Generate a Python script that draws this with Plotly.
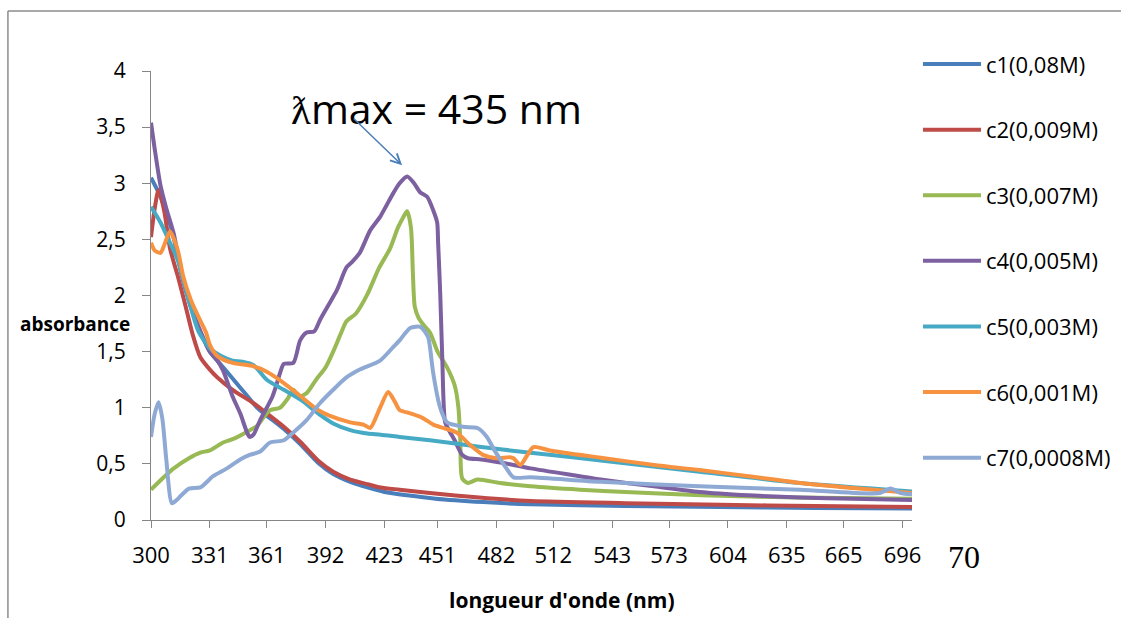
import plotly.graph_objects as go

# ---------------- data ----------------
series_names = ["c1(0,08M)", "c2(0,009M)", "c3(0,007M)", "c4(0,005M)",
                "c5(0,003M)", "c6(0,001M)", "c7(0,0008M)"]
series_colors = ["#4A7EBB", "#BE4B48", "#98B954", "#7D60A0",
                 "#46AAC5", "#F69240", "#8EA9D3"]

wl_c1 = [300, 305, 311, 316, 321, 327, 331, 337, 343, 350, 356, 361, 370, 379, 388,
         396, 405, 414, 423, 435, 450, 475, 500, 550, 600, 650, 701]
abs_c1 = [3.05, 2.88, 2.58, 2.2, 1.9, 1.64, 1.5, 1.38, 1.26, 1.12, 1.0, 0.93, 0.81, 0.67, 0.51,
          0.41, 0.34, 0.29, 0.25, 0.22, 0.19, 0.16, 0.14, 0.125, 0.115, 0.108, 0.103]

wl_c2 = [300, 302, 304, 307, 310, 314, 318, 322, 326, 331, 335, 343, 354, 361, 370, 379,
         388, 396, 405, 414, 421, 431, 447, 473, 500, 550, 600, 650, 701]
abs_c2 = [2.52, 2.78, 2.94, 2.75, 2.42, 2.18, 1.92, 1.65, 1.45, 1.34, 1.27, 1.16, 1.04, 0.95,
          0.83, 0.69, 0.53, 0.43, 0.36, 0.32, 0.29, 0.27, 0.24, 0.2, 0.17, 0.15, 0.135, 0.125, 0.116]

wl_c3 = [300, 306, 312, 320, 326, 331, 338, 343, 350, 356, 360, 363, 368, 372, 375, 378,
         382, 387, 392, 396, 400, 403, 408, 414, 420, 426, 430, 433, 435, 437, 438, 439,
         441, 443, 447, 451, 456, 460, 462, 463, 464, 467, 472, 484, 500, 526, 550, 590,
         640, 701]
abs_c3 = [0.27, 0.37, 0.46, 0.55, 0.6, 0.62, 0.69, 0.72, 0.78, 0.84, 0.93, 0.98, 1.0, 1.08,
          1.16, 1.1, 1.13, 1.25, 1.36, 1.5, 1.66, 1.77, 1.84, 2.01, 2.24, 2.42, 2.6, 2.7, 2.75,
          2.6, 2.2, 1.9, 1.8, 1.75, 1.67, 1.5, 1.36, 1.2, 1.0, 0.7, 0.37, 0.33, 0.36, 0.33,
          0.3, 0.27, 0.25, 0.22, 0.2, 0.19]

wl_c4 = [300, 302, 305, 308, 312, 316, 321, 327, 331, 335, 338, 343, 347, 350.6, 352, 354,
         357.5, 361, 364, 366, 368, 370, 375, 378.6, 382, 386, 389, 393, 398, 403, 406, 410,
         415.5, 420.7, 424, 427.6, 431, 435, 438.6, 441.8, 445.5, 448.7, 450.8, 451.3, 452.4,
         453.5, 455, 457, 460, 464, 467, 474, 485, 500, 526, 537, 565, 589, 615, 642, 670, 701]
abs_c4 = [3.54, 3.3, 2.98, 2.78, 2.55, 2.2, 1.9, 1.64, 1.5, 1.42, 1.33, 1.1, 0.95, 0.78, 0.74,
          0.76, 0.89, 1.0, 1.1, 1.2, 1.31, 1.39, 1.4, 1.6, 1.67, 1.68, 1.78, 1.9, 2.05, 2.25,
          2.3, 2.38, 2.58, 2.7, 2.8, 2.91, 3.0, 3.06, 3.0, 2.92, 2.88, 2.76, 2.65, 2.47, 2.02,
          1.43, 0.87, 0.8, 0.71, 0.58, 0.55, 0.54, 0.51, 0.46, 0.39, 0.36, 0.3, 0.25, 0.22,
          0.2, 0.19, 0.178]

wl_c5 = [300, 305, 310, 314, 320, 325, 331, 337, 343, 348, 354, 361, 370, 379, 388, 396,
         405, 414, 421, 431, 447, 474, 484, 500, 537, 589, 642, 701]
abs_c5 = [2.79, 2.65, 2.47, 2.32, 1.95, 1.68, 1.53, 1.46, 1.42, 1.41, 1.38, 1.25, 1.16, 1.07,
          0.95, 0.86, 0.8, 0.77, 0.76, 0.74, 0.71, 0.65, 0.63, 0.6, 0.53, 0.43, 0.33, 0.255]

wl_c6 = [300, 302, 305, 307, 310, 314, 317, 321, 325, 329, 331, 335, 343, 354, 361, 370,
         379, 388, 394, 405, 412, 415.5, 420.7, 425, 428.6, 431, 436.6, 443, 448.7, 454,
         461, 468, 475, 482, 489, 491, 494.6, 498, 501.5, 510, 537, 565, 589, 615, 642, 670, 701]
abs_c6 = [2.47, 2.4, 2.38, 2.45, 2.57, 2.41, 2.17, 1.96, 1.81, 1.67, 1.56, 1.46, 1.4, 1.37,
          1.32, 1.22, 1.1, 0.98, 0.93, 0.87, 0.85, 0.82, 1.0, 1.14, 1.05, 0.98, 0.95, 0.91,
          0.85, 0.82, 0.78, 0.67, 0.58, 0.55, 0.56, 0.55, 0.49, 0.57, 0.65, 0.62, 0.555, 0.49,
          0.445, 0.39, 0.33, 0.285, 0.24]

wl_c7 = [300, 302, 304, 306, 308, 311, 313, 316, 320, 326, 332.7, 340, 347, 352, 357.5,
         362.7, 370, 375, 382, 389, 396, 403, 410, 420.7, 427.6, 431, 436.6, 442, 446, 447,
         448.7, 452.4, 456, 464.5, 472, 477, 481, 487.7, 491, 500, 537, 589, 642, 684, 689.7,
         695, 701]
abs_c7 = [0.74, 0.95, 1.05, 0.9, 0.55, 0.15, 0.17, 0.22, 0.28, 0.29, 0.39, 0.46, 0.54, 0.58,
          0.61, 0.69, 0.71, 0.78, 0.89, 1.04, 1.16, 1.27, 1.34, 1.42, 1.54, 1.6, 1.71, 1.72,
          1.63, 1.54, 1.31, 1.0, 0.87, 0.83, 0.82, 0.74, 0.62, 0.45, 0.38, 0.38, 0.34, 0.3,
          0.27, 0.24, 0.28, 0.24, 0.23]

x_tick_vals = [300, 331, 361, 392, 423, 451, 482, 512, 543, 573, 604, 635, 665, 696]
y_tick_vals = [0, 0.5, 1, 1.5, 2, 2.5, 3, 3.5, 4]
y_tick_text = ["0", "0,5", "1", "1,5", "2", "2,5", "3", "3,5", "4"]

peak_label = "ƛmax = 435 nm"
peak_wl, peak_abs = 432.3, 3.16        # arrow tip
label_wl, label_abs = 406.0, 3.59      # arrow tail
x_title = "longueur d'onde (nm)"
y_title = "absorbance"
stray_text = "70"

wl_all = [wl_c1, wl_c2, wl_c3, wl_c4, wl_c5, wl_c6, wl_c7]
abs_all = [abs_c1, abs_c2, abs_c3, abs_c4, abs_c5, abs_c6, abs_c7]

# ---------------- figure ----------------
FONT = "Open Sans"
fig = go.Figure()
for i, (name, col, xs, ys) in enumerate(zip(series_names, series_colors, wl_all, abs_all)):
    fig.add_trace(go.Scatter(
        x=xs, y=ys, name=name, mode="lines", legendgroup=f"g{i}",
        line=dict(color=col, width=4, shape="spline", smoothing=0.7),
        cliponaxis=False,
    ))

axis_gray = "#868686"
fig.update_layout(
    width=1121, height=618,
    margin=dict(l=151, r=209, t=71, b=98, autoexpand=False),
    paper_bgcolor="white", plot_bgcolor="white",
    font=dict(family=FONT, size=22, color="black"),
    showlegend=True,
    legend=dict(
        xref="container", yref="container",
        x=0.8189, xanchor="left", y=0.930, yanchor="top",
        font=dict(family=FONT, size=22, color="black"),
        tracegroupgap=34, traceorder="grouped", itemwidth=58,
        bgcolor="rgba(0,0,0,0)", maxheight=600,
    ),
    xaxis=dict(
        range=[300, 701], tickmode="array", tickvals=x_tick_vals,
        showgrid=False, zeroline=False, showline=True, linecolor=axis_gray, linewidth=1.3,
        ticks="outside", ticklen=7, tickcolor=axis_gray, tickwidth=1.3,
        tickfont=dict(family=FONT, size=22, color="black"), ticklabelstandoff=8,
    ),
    yaxis=dict(
        range=[0, 4], tickmode="array", tickvals=y_tick_vals, ticktext=y_tick_text,
        showgrid=False, zeroline=False, showline=True, linecolor=axis_gray, linewidth=1.3,
        ticks="outside", ticklen=8, tickcolor=axis_gray, tickwidth=1.3,
        tickfont=dict(family=FONT, size=21, color="black"), ticklabelstandoff=12,
    ),
)

# frame of the chart area (top and left edges visible in the reference)
frame_gray = "#8C8C8C"
fig.add_shape(type="line", xref="paper", yref="paper", x0=-0.188, x1=1.3, y0=1.1336, y1=1.1336,
              line=dict(color=frame_gray, width=1.5))
fig.add_shape(type="line", xref="paper", yref="paper", x0=-0.188, x1=-0.188, y0=1.1336, y1=-0.25,
              line=dict(color=frame_gray, width=1.5))

# axis titles
fig.add_annotation(text=f"<b>{y_title}</b>", xref="paper", yref="paper", x=-0.1, y=0.436,
                   xanchor="center", yanchor="middle",
                   showarrow=False, font=dict(family=FONT, size=19, color="black"))
fig.add_annotation(text=f"<b>{x_title}</b>", xref="paper", yref="paper", x=0.54, y=-0.178,
                   xanchor="center", yanchor="middle",
                   showarrow=False, font=dict(family=FONT, size=21, color="black"))

# peak label with arrow
fig.add_annotation(text=peak_label, x=450.3, y=3.67, xref="x", yref="y", showarrow=False,
                   xanchor="center", yanchor="middle",
                   font=dict(family=FONT, size=41, color="black"))
fig.add_annotation(text="", x=peak_wl, y=peak_abs, ax=label_wl, ay=label_abs,
                   xref="x", yref="y", axref="x", ayref="y",
                   showarrow=True, arrowhead=5, arrowsize=1.3, arrowwidth=1.5,
                   arrowcolor="#4A7EBB")

# stray text at the right end of the axis
fig.add_annotation(text=stray_text, xref="paper", yref="paper", x=1.068, y=-0.083,
                   xanchor="center", yanchor="middle",
                   showarrow=False, font=dict(family="Liberation Serif", size=32, color="black"))

fig.write_html("out.html")
